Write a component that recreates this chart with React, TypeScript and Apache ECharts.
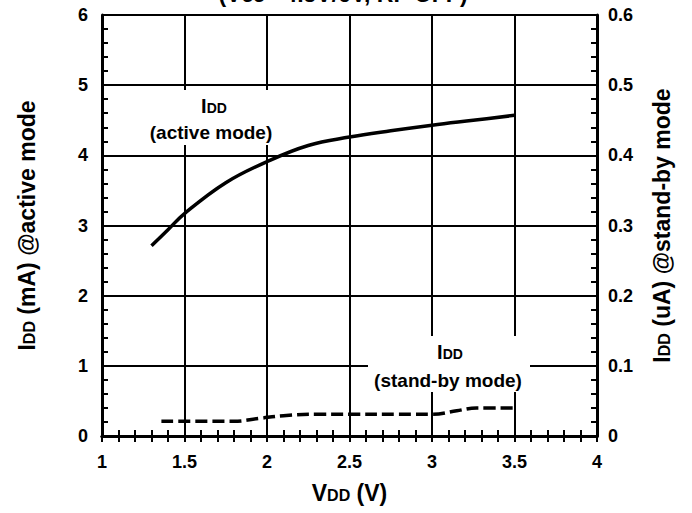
import React, { useEffect, useRef } from "react";
import * as echarts from "echarts";

const activeVdd = [1.3, 1.4, 1.5, 1.75, 2.0, 2.25, 2.5, 2.75, 3.0, 3.25, 3.5];
const activeIdd = [2.71, 2.94, 3.17, 3.61, 3.91, 4.14, 4.26, 4.35, 4.43, 4.5, 4.57];

const standbyVdd = [1.36, 1.8, 1.95, 2.1, 2.3, 3.0, 3.15, 3.27, 3.5];
const standbyIdd = [0.021, 0.021, 0.025, 0.029, 0.031, 0.031, 0.036, 0.04, 0.04];

const FONT = "'Liberation Sans', Arial, sans-serif";

export default function App() {
  const ref = useRef<HTMLDivElement>(null);
  useEffect(() => {
    if (!ref.current) return;
    const chart = echarts.init(ref.current, undefined, { renderer: "svg" });
    const axisLine = { show: true, lineStyle: { color: "#000", width: 3 } };
    const tick = { show: true, inside: true, length: 6, lineStyle: { color: "#000", width: 2 } };
    const minor = (n: number) => ({ show: true, splitNumber: n, length: 6, lineStyle: { color: "#000", width: 2 } });
    const labelStyle = { color: "#000", fontSize: 18, fontWeight: "bold" as const, fontFamily: FONT };
    const nameRich = {
      a: { fontSize: 23, fontWeight: "bold" as const, fontFamily: FONT, color: "#000", verticalAlign: "bottom" as const },
      s: { fontSize: 16, fontWeight: "bold" as const, fontFamily: FONT, color: "#000", verticalAlign: "bottom" as const, padding: [0, 0, 1, 0] },
    };
    const labRich = {
      a: { fontSize: 20, fontWeight: "bold" as const, fontFamily: FONT, color: "#000", verticalAlign: "bottom" as const },
      s: { fontSize: 14, fontWeight: "bold" as const, fontFamily: FONT, color: "#000", verticalAlign: "bottom" as const, padding: [0, 0, 1, 0] },
    };
    const option: any = {
      animation: false,
      backgroundColor: "#fff",
      grid: { left: 102, right: 95, top: 15, bottom: 77, containLabel: false },
      xAxis: [
        {
          type: "value", min: 1, max: 4, interval: 0.5, position: "bottom",
          axisLine, axisTick: tick, minorTick: minor(5),
          axisLabel: { ...labelStyle, margin: 17, formatter: (v: number) => String(v) },
          splitLine: { show: true, lineStyle: { color: "#000", width: 2 } },
          name: "{a|V}{s|DD}{a| (V)}", nameLocation: "middle", nameGap: 45,
          nameTextStyle: { rich: nameRich },
        },
        {
          type: "value", min: 1, max: 4, interval: 0.5, position: "top",
          axisLine, axisTick: tick, minorTick: minor(5),
          axisLabel: { show: false }, splitLine: { show: false },
        },
      ],
      yAxis: [
        {
          type: "value", min: 0, max: 6, interval: 1, position: "left",
          axisLine, axisTick: tick, minorTick: minor(5),
          axisLabel: { ...labelStyle, margin: 14 },
          splitLine: { show: true, lineStyle: { color: "#000", width: 2 } },
          name: "{a|I}{s|DD}{a| (mA) @active mode}", nameLocation: "middle", nameGap: 64, nameRotate: 90,
          nameTextStyle: { rich: nameRich },
        },
        {
          type: "value", min: 0, max: 0.6, interval: 0.1, position: "right",
          axisLine, axisTick: tick, minorTick: minor(5),
          axisLabel: { ...labelStyle, margin: 11, formatter: (v: number) => (v === 0 ? "0" : v.toFixed(1)) },
          splitLine: { show: false },
          name: "{a|I}{s|DD}{a| (uA) @stand-by mode}", nameLocation: "middle", nameGap: 53, nameRotate: 90,
          nameTextStyle: { rich: nameRich },
        },
      ],
      series: [
        {
          type: "line", xAxisIndex: 0, yAxisIndex: 0, smooth: 0.4, symbol: "none",
          data: activeVdd.map((v, i) => [v, activeIdd[i]]),
          lineStyle: { color: "#000", width: 3.5 }, z: 5,
        },
        {
          type: "line", xAxisIndex: 0, yAxisIndex: 1, smooth: 0.4, symbol: "none",
          data: standbyVdd.map((v, i) => [v, standbyIdd[i]]),
          lineStyle: { color: "#000", width: 3.5, type: [12, 5] }, z: 5,
        },
      ],
      graphic: [
        {
          type: "text", x: 343, y: -18, z: 10,
          style: {
            text: "{a|(V}{s|CC}{a|= 4.5V/6V, RF OFF)}",
            rich: nameRich, fill: "#000", align: "center", verticalAlign: "top",
          },
        },
        {
          type: "rect", shape: { x: 146, y: 90, width: 130, height: 55 },
          style: { fill: "#fff" }, z: 8,
        },
        {
          type: "text", x: 214, y: 106, z: 10,
          style: { text: "{a|I}{s|DD}", rich: labRich, align: "center", verticalAlign: "middle" },
        },
        {
          type: "text", x: 211, y: 132, z: 10,
          style: { text: "(active mode)", fill: "#000", font: `bold 19px ${FONT}`, align: "center", verticalAlign: "middle" },
        },
        {
          type: "rect", shape: { x: 368, y: 336, width: 162, height: 56 },
          style: { fill: "#fff" }, z: 8,
        },
        {
          type: "text", x: 450, y: 352, z: 10,
          style: { text: "{a|I}{s|DD}", rich: labRich, align: "center", verticalAlign: "middle" },
        },
        {
          type: "text", x: 448, y: 380, z: 10,
          style: { text: "(stand-by mode)", fill: "#000", font: `bold 19px ${FONT}`, align: "center", verticalAlign: "middle" },
        },
      ],
    };
    chart.setOption(option);
    return () => chart.dispose();
  }, []);
  return (
    <div
      ref={ref}
      style={{ position: "absolute", left: 0, top: 0, width: 692, height: 513, background: "#fff" }}
    />
  );
}
